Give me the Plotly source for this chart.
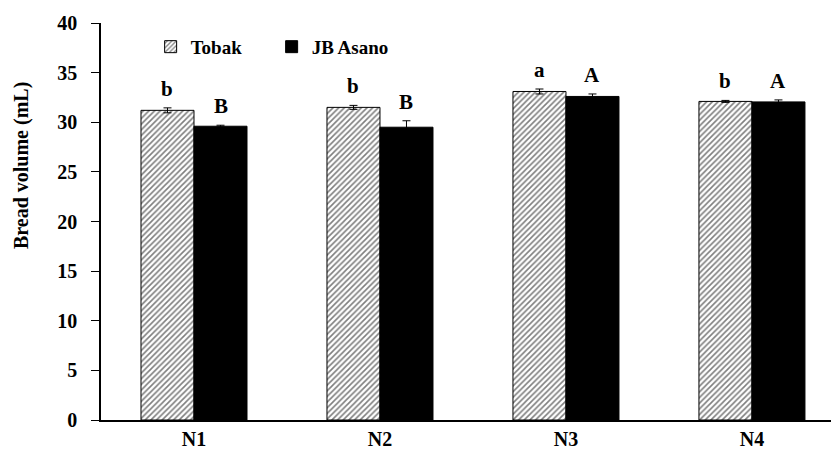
import plotly.graph_objects as go

categories = ["N1", "N2", "N3", "N4"]
tobak = [31.2, 31.5, 33.1, 32.1]
tobak_err = [0.25, 0.2, 0.25, 0.1]
asano = [29.6, 29.5, 32.6, 32.05]
asano_err = [0.1, 0.65, 0.25, 0.2]
tobak_letters = ["b", "b", "a", "b"]
asano_letters = ["B", "B", "A", "A"]
yticks = [0, 5, 10, 15, 20, 25, 30, 35, 40]
y_title = "Bread volume (mL)"

FONT = "Liberation Serif"

fig = go.Figure()
fig.add_trace(go.Bar(
    name="<b>Tobak</b>", x=categories, y=tobak,
    error_y=dict(type="data", array=tobak_err, color="black", thickness=1, width=4),
    marker=dict(color="white", line=dict(color="black", width=1),
                pattern=dict(shape="/", fgcolor="black", bgcolor="white", size=4, solidity=0.4)),
))
fig.add_trace(go.Bar(
    name="<b>JB Asano</b>", x=categories, y=asano,
    error_y=dict(type="data", array=asano_err, color="black", thickness=1, width=4),
    marker=dict(color="black", line=dict(color="black", width=1)),
))

off = 0.1425
for i, c in enumerate(categories):
    fig.add_annotation(x=i - off, y=tobak[i] + tobak_err[i], text="<b>%s</b>" % tobak_letters[i],
                       showarrow=False, yanchor="bottom", yshift=5,
                       font=dict(family=FONT, size=21, color="black"))
    fig.add_annotation(x=i + off, y=asano[i] + asano_err[i], text="<b>%s</b>" % asano_letters[i],
                       showarrow=False, yanchor="bottom", yshift=5,
                       font=dict(family=FONT, size=21, color="black"))

# y-axis title (placed as in the reference, above the axis centre)
fig.add_annotation(xref="paper", yref="paper", x=-0.108, y=0.64, text="<b>%s</b>" % y_title,
                   textangle=-90, showarrow=False, xanchor="center", yanchor="middle",
                   font=dict(family=FONT, size=20, color="black"))

fig.update_layout(
    width=831, height=455,
    margin=dict(l=101, r=0, t=23, b=35, autoexpand=False),
    paper_bgcolor="white", plot_bgcolor="white",
    barmode="group", bargap=0.43, bargroupgap=0,
    font=dict(family=FONT, size=20, color="black"),
    showlegend=True,
    legend=dict(orientation="h", x=0.068, y=0.94, xanchor="left", yanchor="middle",
                bgcolor="rgba(0,0,0,0)", font=dict(family=FONT, size=19, color="black"),
                itemwidth=30, traceorder="normal", entrywidth=76),
    xaxis=dict(range=[-0.5, 3.425], showline=True, linecolor="black", linewidth=1.5,
               ticks="", tickfont=dict(family=FONT, size=20, color="black"),
               showgrid=False, zeroline=False, automargin=False,
               tickvals=categories, ticktext=["<b>%s</b>" % c for c in categories]),
    yaxis=dict(range=[0, 40], showline=True, linecolor="black", linewidth=1.5,
               ticks="outside", ticklen=8, tickcolor="black", tickwidth=1.2,
               ticklabelstandoff=10,
               tickfont=dict(family=FONT, size=20, color="black"),
               showgrid=False, zeroline=False, automargin=False,
               tickvals=yticks, ticktext=["<b>%d</b>" % v for v in yticks]),
)

fig.write_html("out.html", config={"displayModeBar": False},
               post_script="document.body.style.margin='0';")
